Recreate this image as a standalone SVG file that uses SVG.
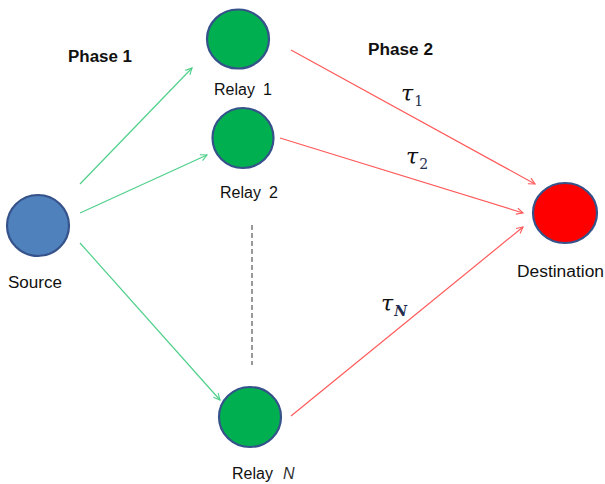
<svg xmlns="http://www.w3.org/2000/svg" width="605" height="484" viewBox="0 0 605 484">
  <style>
    .node { stroke: #35528a; stroke-width: 2.2; }
    .relay { fill: #00b050; }
    .src { fill: #4f81bd; }
    .dst { fill: #ff0000; }
    .lbl { font-family: "Liberation Sans", Arial, sans-serif; font-size: 16px; fill: #111; }
    .phase { font-family: "Liberation Sans", Arial, sans-serif; font-size: 16px; font-weight: bold; fill: #111; }
    .tau { font-family: "DejaVu Serif", "Liberation Serif", serif; font-style: italic; font-size: 22px; fill: #111; }
    .sub { font-family: "DejaVu Serif", "Liberation Serif", serif; font-size: 14px; fill: #1f2d50; }
    .g { stroke: #4fd08a; stroke-width: 1.2; fill: none; marker-end: url(#ag); }
    .r { stroke: #ff5a5a; stroke-width: 1.2; fill: none; marker-end: url(#ar); }
  </style>
  <defs>
    <marker id="ag" viewBox="0 0 10 10" refX="9" refY="5" markerWidth="8" markerHeight="8" markerUnits="userSpaceOnUse" orient="auto">
      <path d="M1,1 L9,5 L1,9" fill="none" stroke="#4fd08a" stroke-width="1.4"/>
    </marker>
    <marker id="ar" viewBox="0 0 10 10" refX="9" refY="5" markerWidth="8" markerHeight="8" markerUnits="userSpaceOnUse" orient="auto">
      <path d="M1,1 L9,5 L1,9" fill="none" stroke="#ff5a5a" stroke-width="1.4"/>
    </marker>
  </defs>

  <g id="connectors">
    <line class="g" x1="80" y1="184" x2="192" y2="68"/>
    <line class="g" x1="80" y1="213" x2="207" y2="155"/>
    <line class="g" x1="80" y1="243" x2="220" y2="400"/>
    <line class="r" x1="291" y1="50" x2="535" y2="184"/>
    <line class="r" x1="280" y1="138" x2="523" y2="213"/>
    <line class="r" x1="291" y1="416" x2="523" y2="227"/>
    <line x1="252" y1="225" x2="252" y2="365" stroke="#555" stroke-width="1.2" stroke-dasharray="5,3"/>
  </g>

  <g id="labels">
    <text class="phase" x="68" y="62" textLength="64" lengthAdjust="spacingAndGlyphs">Phase 1</text>
    <text class="phase" x="368" y="55" textLength="65" lengthAdjust="spacingAndGlyphs">Phase 2</text>
    <text x="401" y="101"><tspan class="tau">τ</tspan><tspan class="sub" dx="1" dy="5">1</tspan></text>
    <text x="406" y="164"><tspan class="tau">τ</tspan><tspan class="sub" dx="1" dy="5">2</tspan></text>
    <text x="381" y="311"><tspan class="tau">τ</tspan><tspan class="sub" font-style="italic" font-weight="bold" dx="1" dy="5">N</tspan></text>
  </g>

  <g id="source">
    <ellipse class="node src" cx="38" cy="225.5" rx="31" ry="30.5"/>
    <text class="lbl" x="8" y="288" textLength="54" lengthAdjust="spacingAndGlyphs">Source</text>
  </g>

  <g id="relay1">
    <ellipse class="node relay" cx="238" cy="39" rx="31" ry="29.5"/>
    <text class="lbl" x="214" y="95">Relay<tspan dx="8">1</tspan></text>
  </g>

  <g id="relay2">
    <ellipse class="node relay" cx="243" cy="138" rx="30.5" ry="30"/>
    <text class="lbl" x="220" y="198">Relay<tspan dx="8">2</tspan></text>
  </g>

  <g id="relayN">
    <ellipse class="node relay" cx="250" cy="417" rx="31" ry="30"/>
    <text class="lbl" x="232" y="479">Relay<tspan dx="10" font-style="italic" font-weight="200" fill="#333">N</tspan></text>
  </g>

  <g id="destination">
    <ellipse class="node dst" cx="565" cy="213" rx="32" ry="30"/>
    <text class="lbl" x="517" y="277" textLength="87" lengthAdjust="spacingAndGlyphs">Destination</text>
  </g>
</svg>
